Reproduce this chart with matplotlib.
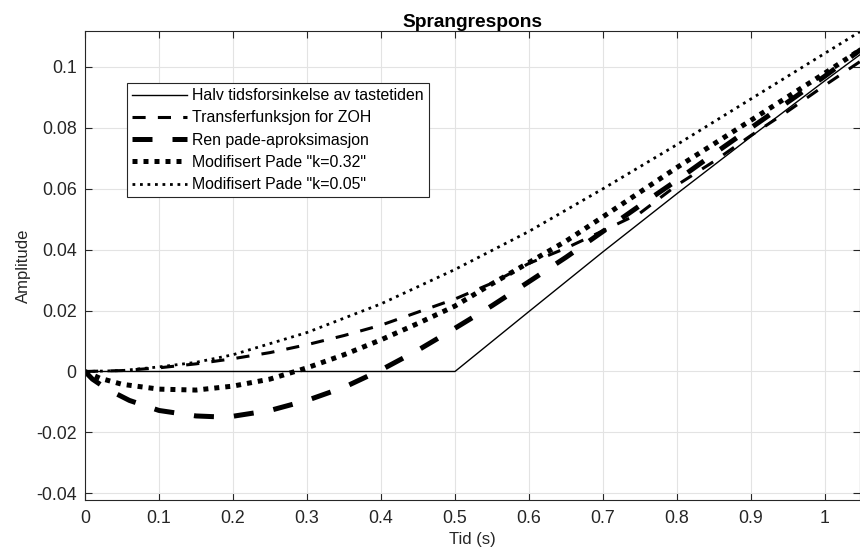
import matplotlib
matplotlib.use("Agg")
import matplotlib.pyplot as plt

plt.rcParams['font.family'] = ['Liberation Sans', 'DejaVu Sans']

# ---- data ----
x_halv = [0.0, 0.5, 0.6, 0.7, 0.8, 0.9, 1.0, 1.05]
y_halv = [0.0, 0.0, 0.0197, 0.0393, 0.0584, 0.0771, 0.0955, 0.1045]

x_zoh = [0.0, 0.05, 0.1, 0.15, 0.2, 0.25, 0.3, 0.35, 0.4, 0.45, 0.5, 0.55,
         0.6, 0.65, 0.7, 0.75, 0.8, 0.85, 0.9, 0.95, 1.0, 1.05]
y_zoh = [0.0, 0.0003, 0.0012, 0.0025, 0.0042, 0.0062, 0.0088, 0.0118, 0.0152,
         0.0195, 0.0238, 0.0290, 0.0355, 0.0405, 0.0462, 0.0520, 0.0612,
         0.0690, 0.0775, 0.0855, 0.0940, 0.1022]

x_pade = [0.0, 0.01, 0.03, 0.06, 0.1, 0.15, 0.18, 0.2, 0.25, 0.3, 0.35, 0.4,
          0.45, 0.5, 0.55, 0.6, 0.65, 0.7, 0.75, 0.8, 0.85, 0.9, 0.95, 1.0, 1.05]
y_pade = [0.0, -0.0025, -0.0058, -0.0095, -0.0128, -0.0146, -0.0149, -0.0147,
          -0.0128, -0.0095, -0.0052, 0.0005, 0.0070, 0.0142, 0.0216, 0.0295,
          0.0375, 0.0460, 0.0545, 0.0628, 0.0715, 0.0800, 0.0885, 0.0970, 0.1060]

x_k032 = [0.0, 0.02, 0.05, 0.1, 0.15, 0.2, 0.25, 0.3, 0.35, 0.4, 0.45, 0.5,
          0.55, 0.6, 0.65, 0.7, 0.8, 0.9, 1.0, 1.05]
y_k032 = [0.0, -0.0022, -0.0042, -0.0058, -0.0061, -0.0048, -0.0025, 0.0012,
          0.0055, 0.0104, 0.0158, 0.0215, 0.0288, 0.0358, 0.0428, 0.0508,
          0.0670, 0.0825, 0.0980, 0.1060]

x_k005 = [0.0, 0.05, 0.1, 0.15, 0.2, 0.3, 0.4, 0.5, 0.6, 0.7, 0.8, 0.9, 1.0, 1.05]
y_k005 = [0.0, 0.0003, 0.0015, 0.0030, 0.0055, 0.0128, 0.0222, 0.0335, 0.0460,
          0.0600, 0.0745, 0.0895, 0.1045, 0.1120]

labels = ["Halv tidsforsinkelse av tastetiden",
          "Transferfunksjon for ZOH",
          "Ren pade-aproksimasjon",
          'Modifisert Pade "k=0.32"',
          'Modifisert Pade "k=0.05"']

xticks = [0, 0.1, 0.2, 0.3, 0.4, 0.5, 0.6, 0.7, 0.8, 0.9, 1.0]
xticklabels = ["0", "0.1", "0.2", "0.3", "0.4", "0.5", "0.6", "0.7", "0.8", "0.9", "1"]
yticks = [-0.04, -0.02, 0, 0.02, 0.04, 0.06, 0.08, 0.1]
yticklabels = ["-0.04", "-0.02", "0", "0.02", "0.04", "0.06", "0.08", "0.1"]

# ---- figure ----
fig = plt.figure(figsize=(8.6, 5.6), dpi=100)
ax = fig.add_axes([85/860, 60/560, 775/860, 469/560])

dark = '#262626'
ax.plot(x_halv, y_halv, color='k', lw=1.0, label=labels[0])
ax.plot(x_zoh, y_zoh, color='k', lw=2.2, dashes=(4.3, 4.0),
        dash_capstyle='butt', label=labels[1])
ax.plot(x_pade, y_pade, color='k', lw=3.6, dashes=(4.0, 4.0),
        dash_capstyle='butt', label=labels[2])
ax.plot(x_k032, y_k032, color='k', lw=3.6, dashes=(1.0, 1.2),
        dash_capstyle='butt', label=labels[3])
ax.plot(x_k005, y_k005, color='k', lw=2.0, dashes=(1.0, 1.7),
        dash_capstyle='butt', label=labels[4])

ax.set_xlim(0, 1.0473)
ax.set_ylim(-0.0422, 0.1118)
ax.set_xticks(xticks)
ax.set_xticklabels(xticklabels)
ax.set_yticks(yticks)
ax.set_yticklabels(yticklabels)

ax.grid(True, color='#e3e3e3', lw=0.8)
ax.set_axisbelow(True)
ax.tick_params(direction='in', top=True, right=True, length=5, width=0.8,
               colors=dark, labelsize=12.8, labelcolor=dark)
ax.tick_params(axis='x', pad=7.5)
ax.tick_params(axis='y', pad=6)
for s in ax.spines.values():
    s.set_color(dark)
    s.set_linewidth(0.8)

ax.set_title("Sprangrespons", fontsize=13.8, fontweight='bold', color='k', pad=3)
ax.set_xlabel("Tid (s)", fontsize=12, color=dark, labelpad=3)
ax.set_ylabel("Amplitude", fontsize=12, color=dark, labelpad=4)

leg = ax.legend(loc='upper left', bbox_to_anchor=(0.0542, 0.889),
                borderaxespad=0, fontsize=11.4, handlelength=3.5,
                handletextpad=0.3, labelspacing=0.46, borderpad=0.32,
                fancybox=False, framealpha=1, edgecolor=dark)
leg.get_frame().set_linewidth(0.8)
for t in leg.get_texts():
    t.set_color('k')

fig.savefig("out.png", dpi=100)
